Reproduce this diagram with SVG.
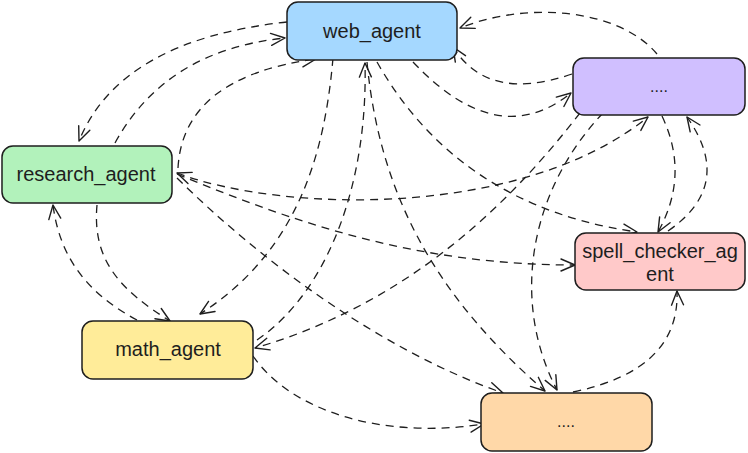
<svg xmlns="http://www.w3.org/2000/svg" width="748" height="453" viewBox="0 0 748 453">
<style>
.node rect{stroke:#1e1e1e;stroke-width:1.5}
.label{font-family:"Liberation Sans",Arial,sans-serif;font-size:20px;fill:#1e1e1e;text-anchor:middle;dominant-baseline:central}
.dots{font-size:16px}
.edge{fill:none;stroke:#1e1e1e;stroke-width:1.3;stroke-dasharray:8 6;marker-end:url(#arr)}
.both{marker-start:url(#arr)}
</style>
<defs>
<marker id="arr" viewBox="-15 -8 17 16" refX="0" refY="0" markerWidth="17" markerHeight="16" markerUnits="userSpaceOnUse" orient="auto-start-reverse">
<path d="M-14,-6 L0,0 L-14,6" fill="none" stroke="#1e1e1e" stroke-width="1.4" stroke-linecap="round" stroke-linejoin="round"/>
</marker>
</defs>
<rect width="748" height="453" fill="#ffffff"/>
<g id="connectors">
<path class="edge" d="M287,22 Q120,40 79,141"/>
<path class="edge" d="M115,143 Q166,50 285,38"/>
<path class="edge" d="M178,168 Q183,77 316,59"/>
<path class="edge" d="M657,54 C620,10 530,0 460,28"/>
<path class="edge" d="M572,74 Q488,103 453,47"/>
<path class="edge" d="M413,62 Q498,152 571,93"/>
<path class="edge" d="M377,62 C410,120 480,210 637,232"/>
<path class="edge" d="M367,62 C380,200 440,300 545,391"/>
<path class="edge" d="M257,340 C330,290 368,180 365,63"/>
<path class="edge both" d="M177,173 C280,212 520,220 648,117"/>
<path class="edge" d="M580,113 C520,190 420,300 255,348"/>
<path class="edge" d="M603,113 C530,190 510,300 557,390"/>
<path class="edge" d="M177,174 C300,225 420,265 575,265"/>
<path class="edge" d="M177,178 C260,260 380,350 503,393"/>
<path class="edge" d="M253,356 C290,410 380,440 484,424"/>
<path class="edge" d="M573,392 Q680,370 677,291"/>
<path class="edge" d="M662,116 Q690,175 658,232"/>
<path class="edge" d="M668,231 Q735,185 687,117"/>
<path class="edge" d="M137,320 C90,295 60,260 53,205"/>
<path class="edge" d="M97,205 C92,260 120,290 170,321"/>
<path class="edge" d="M333,58 C325,150 300,250 200,314"/>
</g>
<g id="web_agent" class="node">
<rect x="287" y="2" width="170" height="58" rx="11" fill="#a5d8ff"/>
<text class="label" x="372" y="31">web_agent</text>
</g>
<g id="other_agent_top" class="node">
<rect x="573" y="58" width="172" height="57" rx="11" fill="#d0bfff"/>
<text class="label dots" x="659" y="86">....</text>
</g>
<g id="research_agent" class="node">
<rect x="2" y="146" width="170" height="57" rx="11" fill="#b2f2bb"/>
<text class="label" x="86" y="174">research_agent</text>
</g>
<g id="spell_checker_agent" class="node">
<rect x="575" y="233" width="170" height="57" rx="11" fill="#ffc9c9"/>
<text class="label" x="660" y="251">spell_checker_ag</text>
<text class="label" x="660" y="274">ent</text>
</g>
<g id="math_agent" class="node">
<rect x="82" y="321" width="171" height="58" rx="11" fill="#ffec99"/>
<text class="label" x="168" y="349">math_agent</text>
</g>
<g id="other_agent_bottom" class="node">
<rect x="481" y="393" width="171" height="58" rx="11" fill="#ffd8a8"/>
<text class="label dots" x="566" y="421">....</text>
</g>
</svg>
